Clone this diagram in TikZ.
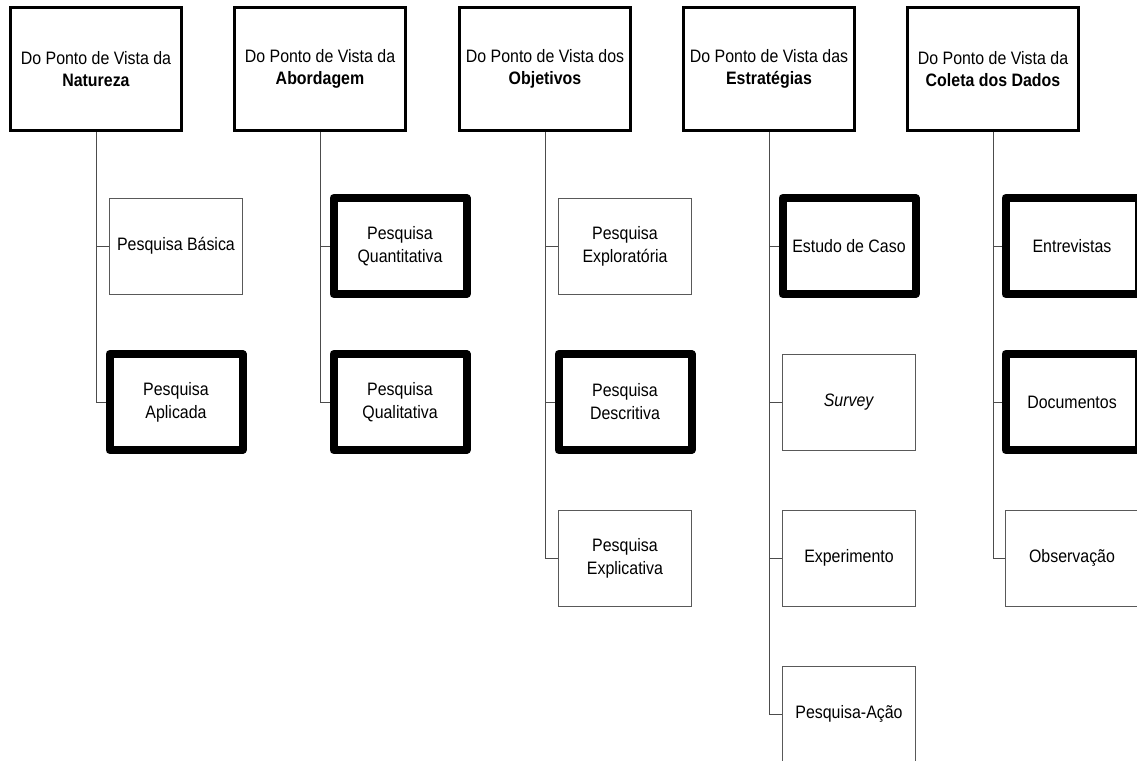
\documentclass[tikz,border=0pt]{standalone}
\usepackage{fontspec}
\setmainfont{Liberation Sans}[FakeStretch=0.885]
\tikzset{
  ponto/.style={draw, line width=3pt, minimum width=171pt, minimum height=123pt,
    align=center, inner sep=2pt, font=\fontsize{18}{22}\selectfont},
  tipo/.style={draw=black!65, line width=1pt, fill=white, minimum width=133pt,
    minimum height=96pt, align=center, inner sep=2pt, font=\fontsize{18}{23}\selectfont},
  destaque/.style={tipo, draw=black, line width=8pt, line join=round},
  liga/.style={draw=black!70, line width=1pt}
}
\begin{document}
\begin{tikzpicture}[x=1pt,y=-1pt]
      \useasboundingbox (0,0) rectangle (1137,760);
      \clip (0,0) rectangle (1137,760);
      \draw
        (96,69) node[ponto] (h1){Do Ponto de Vista da\\\textbf{Natureza}}
        (320,69) node[ponto] (h2){Do Ponto de Vista da\\\textbf{Abordagem}}
        (545,69) node[ponto] (h3){Do Ponto de Vista dos\\\textbf{Objetivos}}
        (769,69) node[ponto] (h4){Do Ponto de Vista das\\\textbf{Estratégias}}
        (993,69) node[ponto] (h5){Do Ponto de Vista da\\\textbf{Coleta dos Dados}};
      \begin{scope}[liga]
        \draw (h1.south) |- (176,246) coordinate (c1a);
        \draw (h1.south) |- (176,402) coordinate (c1b);
        \draw (h2.south) |- (400,246) coordinate (c2a);
        \draw (h2.south) |- (400,402) coordinate (c2b);
        \draw (h3.south) |- (625,246) coordinate (c3a);
        \draw (h3.south) |- (625,402) coordinate (c3b);
        \draw (h3.south) |- (625,558) coordinate (c3c);
        \draw (h4.south) |- (849,246) coordinate (c4a);
        \draw (h4.south) |- (849,402) coordinate (c4b);
        \draw (h4.south) |- (849,558) coordinate (c4c);
        \draw (h4.south) |- (849,714) coordinate (c4d);
        \draw (h5.south) |- (1072,246) coordinate (c5a);
        \draw (h5.south) |- (1072,402) coordinate (c5b);
        \draw (h5.south) |- (1072,558) coordinate (c5c);
      \end{scope}
      \node[tipo] (n1a) at (c1a) {Pesquisa Básica};
      \node[destaque] (n1b) at (c1b) {Pesquisa\\Aplicada};
      \node[destaque] (n2a) at (c2a) {Pesquisa\\Quantitativa};
      \node[destaque] (n2b) at (c2b) {Pesquisa\\Qualitativa};
      \node[tipo] (n3a) at (c3a) {Pesquisa\\Exploratória};
      \node[destaque] (n3b) at (c3b) {Pesquisa\\Descritiva};
      \node[tipo] (n3c) at (c3c) {Pesquisa\\Explicativa};
      \node[destaque] (n4a) at (c4a) {Estudo de Caso};
      \node[tipo] (n4b) at (c4b) {\textit{Survey}};
      \node[tipo] (n4c) at (c4c) {Experimento};
      \node[tipo] (n4d) at (c4d) {Pesquisa-Ação};
      \node[destaque] (n5a) at (c5a) {Entrevistas};
      \node[destaque] (n5b) at (c5b) {Documentos};
      \node[tipo] (n5c) at (c5c) {Observação};
    \end{tikzpicture}
\end{document}
